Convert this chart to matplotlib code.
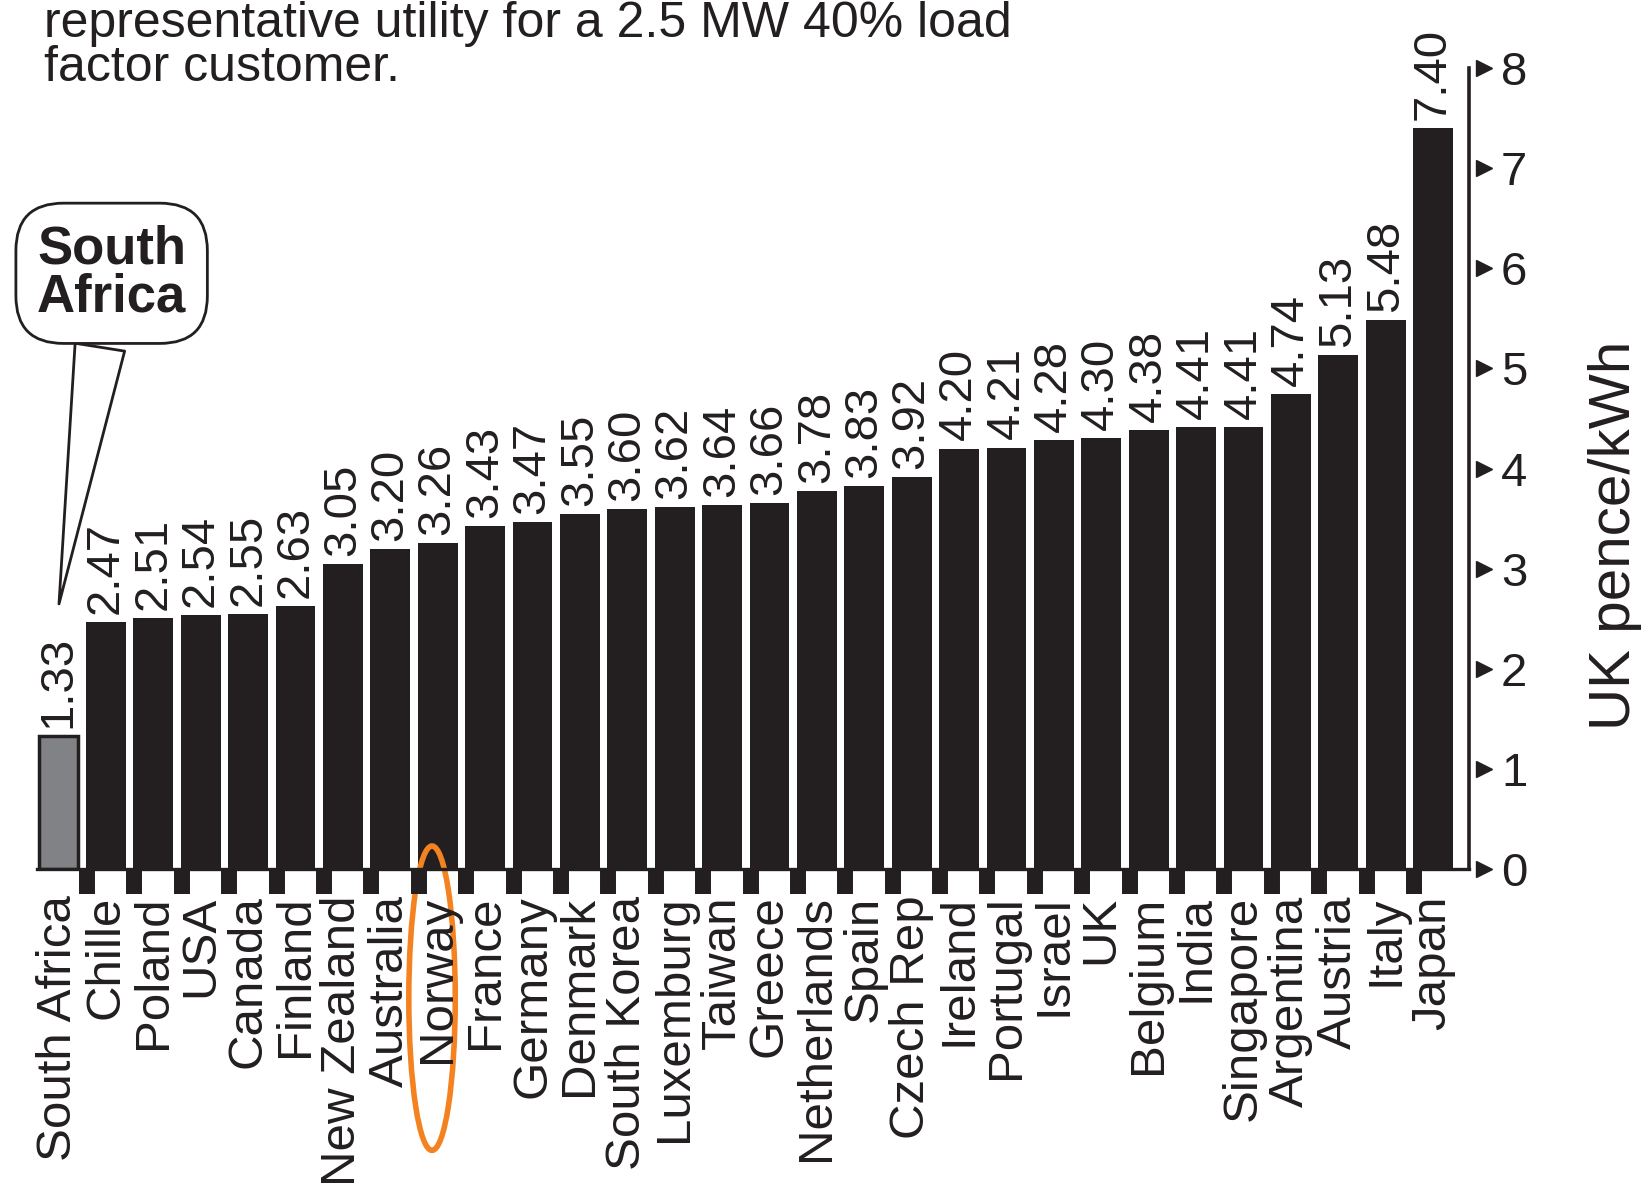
import matplotlib
matplotlib.use('Agg')
import matplotlib.pyplot as plt
import matplotlib.transforms as mtransforms
from matplotlib.patches import Ellipse

# ---------------- data ----------------
countries = ["South Africa", "Chille", "Poland", "USA", "Canada", "Finland",
             "New Zealand", "Australia", "Norway", "France", "Germany", "Denmark",
             "South Korea", "Luxemburg", "Taiwan", "Greece", "Netherlands", "Spain",
             "Czech Rep", "Ireland", "Portugal", "Israel", "UK", "Belgium", "India",
             "Singapore", "Argentina", "Austria", "Italy", "Japan"]
values = [1.33, 2.47, 2.51, 2.54, 2.55, 2.63, 3.05, 3.20, 3.26, 3.43, 3.47, 3.55,
          3.60, 3.62, 3.64, 3.66, 3.78, 3.83, 3.92, 4.20, 4.21, 4.28, 4.30, 4.38,
          4.41, 4.41, 4.74, 5.13, 5.48, 7.40]
yticks = [0, 1, 2, 3, 4, 5, 6, 7, 8]
title_lines = ["representative utility for a 2.5 MW 40% load",
               "factor customer."]
y_label = "UK pence/kWh"
highlight = "South Africa"
callout_text = "South\nAfrica"
circled = "Norway"

# ---------------- style ----------------
plt.rcParams['font.family'] = ['Liberation Sans', 'DejaVu Sans']
dark = '#231f20'
gray = '#808285'
orange = '#f58220'

fig = plt.figure(figsize=(16.48, 11.96), dpi=100)
ax = fig.add_axes([0.0223, 0.2734, 0.8691, 0.6697])

xpos = list(range(len(countries)))
colors = [gray if c == highlight else dark for c in countries]
bars = ax.bar(xpos, values, width=0.84, color=colors, linewidth=0)
hi = countries.index(highlight)
bars[hi].set_edgecolor(dark)
bars[hi].set_linewidth(2.5)

ax.set_xlim(-0.46, 29.76)
ax.set_ylim(0, 8)

for s in ['top', 'left']:
    ax.spines[s].set_visible(False)
ax.spines['bottom'].set_linewidth(2.4)
ax.spines['bottom'].set_color(dark)
ax.spines['right'].set_linewidth(2.6)
ax.spines['right'].set_color(dark)

# x ticks: labels centred under bars, square marks at bar left edges
ax.set_xticks(xpos)
ax.set_xticklabels(countries, rotation=90, fontsize=35.5, color=dark)
ax.tick_params(axis='x', which='major', length=0, pad=19)
ax.set_xticks([i - 0.40 for i in xpos[1:]], minor=True)
ax.tick_params(axis='x', which='minor', length=18, width=11.5, color=dark,
               direction='out')

# y axis on the right with triangle markers
ax.yaxis.tick_right()
ax.set_yticks(yticks)
ax.set_yticklabels([str(t) for t in yticks], fontsize=34, color=dark)
ax.tick_params(axis='y', length=0, pad=23)
trans = mtransforms.blended_transform_factory(ax.transAxes, ax.transData)
ax.plot([1.0105] * len(yticks), yticks, marker='>', ls='none', ms=11,
        color=dark, transform=trans, clip_on=False)

# value labels
for i, v in zip(xpos, values):
    ax.text(i, v + 0.08, f"{v:.2f}", rotation=90, ha='center', va='bottom',
            fontsize=34, color=dark)

# callout for South Africa
ax.annotate(callout_text, xy=(hi, 2.62), xytext=(hi + 1.12, 5.95),
            textcoords='data', ha='center', va='center', fontsize=38,
            fontweight='bold', linespacing=0.95, color=dark,
            bbox=dict(boxstyle='round,pad=0.4,rounding_size=0.9', fc='white',
                      ec=dark, lw=2),
            arrowprops=dict(arrowstyle='wedge,tail_width=0.95,shrink_factor=0.5',
                            fc='white', ec=dark, lw=2),
            annotation_clip=False)

# orange ellipse around Norway label
ci = countries.index(circled)
ax.add_patch(Ellipse((ci - 0.12, -1.29), width=0.98, height=3.04, fill=False,
                     ec=orange, lw=4, clip_on=False))

# title (top of the original page crop)
fig.text(0.0265, 0.969, title_lines[0], fontsize=36, va='baseline', color=dark)
fig.text(0.0265, 0.9325, title_lines[1], fontsize=36, va='baseline', color=dark)

# y label
fig.text(0.980, 0.552, y_label, rotation=90, ha='center', va='center',
         fontsize=42, color=dark)

fig.savefig('out.png', dpi=100)
